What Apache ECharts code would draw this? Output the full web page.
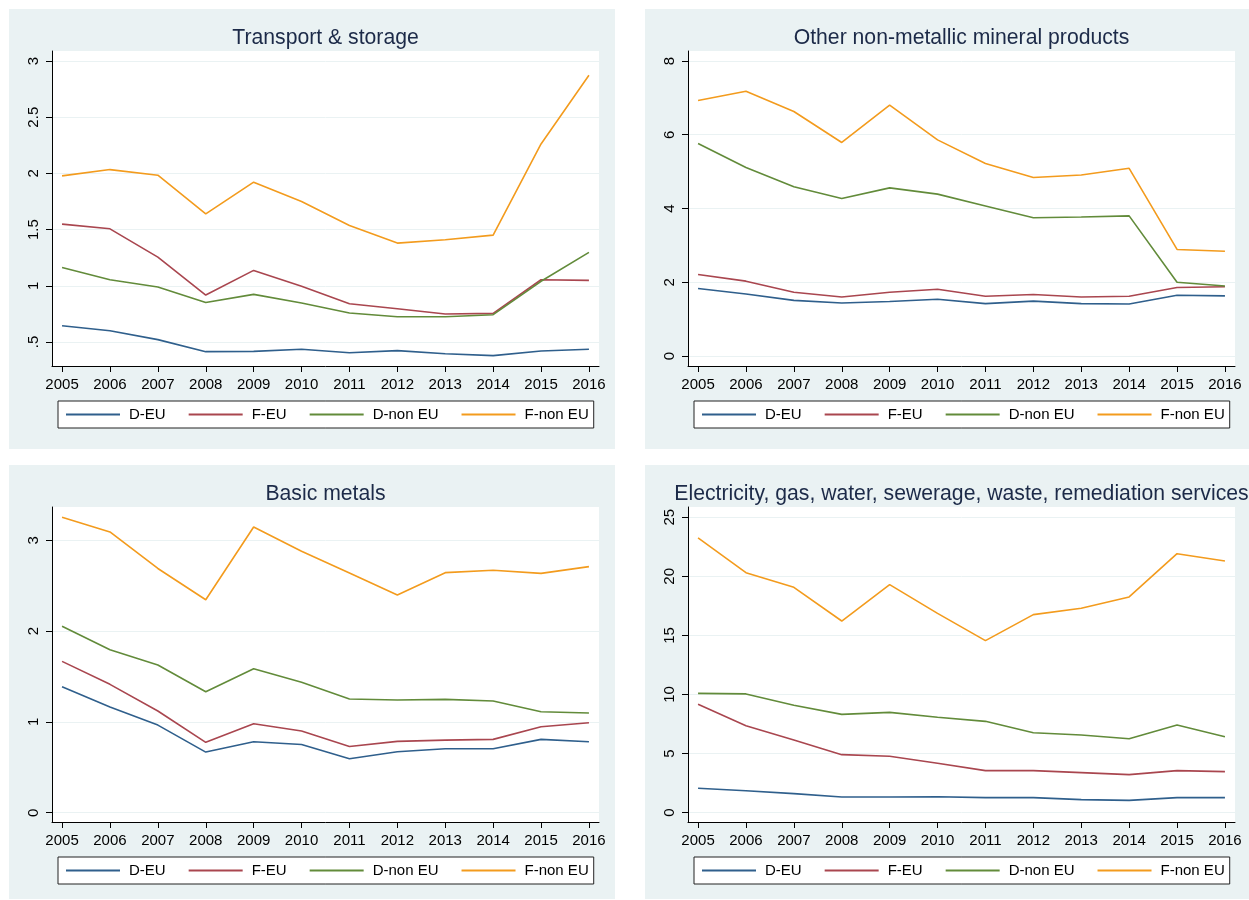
<!DOCTYPE html>
<html>
<head>
<meta charset="utf-8">
<script src="https://cdn.jsdelivr.net/npm/echarts@6/dist/echarts.min.js"></script>
<style>
  html, body { margin: 0; padding: 0; background: #fff; }
  #chart { width: 1249px; height: 900px; }
</style>
</head>
<body>
<div id="chart"></div>
<script>
// years on the x axis
const years = [2005, 2006, 2007, 2008, 2009, 2010, 2011, 2012, 2013, 2014, 2015, 2016];
const seriesNames = ['D-EU', 'F-EU', 'D-non EU', 'F-non EU'];

// Transport & storage
const transportDEU = [0.645, 0.600, 0.521, 0.414, 0.417, 0.435, 0.405, 0.423, 0.396, 0.379, 0.420, 0.435];
const transportFEU = [1.549, 1.507, 1.255, 0.918, 1.137, 0.995, 0.840, 0.796, 0.749, 0.755, 1.054, 1.048];
const transportDnonEU = [1.163, 1.054, 0.989, 0.852, 0.924, 0.847, 0.758, 0.725, 0.725, 0.743, 1.040, 1.297];
const transportFnonEU = [1.978, 2.034, 1.984, 1.640, 1.922, 1.750, 1.537, 1.380, 1.410, 1.451, 2.262, 2.873];
const transportTicks = [0.5, 1, 1.5, 2, 2.5, 3];

// Other non-metallic mineral products
const mineralDEU = [1.83, 1.68, 1.51, 1.44, 1.48, 1.54, 1.42, 1.49, 1.42, 1.41, 1.65, 1.63];
const mineralFEU = [2.21, 2.03, 1.73, 1.60, 1.73, 1.81, 1.62, 1.67, 1.60, 1.62, 1.86, 1.88];
const mineralDnonEU = [5.76, 5.11, 4.59, 4.27, 4.56, 4.39, 4.07, 3.75, 3.77, 3.80, 2.00, 1.90];
const mineralFnonEU = [6.93, 7.18, 6.63, 5.79, 6.80, 5.86, 5.22, 4.84, 4.91, 5.09, 2.89, 2.84];
const mineralTicks = [0, 2, 4, 6, 8];

// Basic metals
const metalsDEU = [1.388, 1.164, 0.965, 0.668, 0.782, 0.752, 0.595, 0.672, 0.705, 0.705, 0.808, 0.782];
const metalsFEU = [1.667, 1.414, 1.120, 0.775, 0.980, 0.900, 0.730, 0.786, 0.800, 0.808, 0.947, 0.991];
const metalsDnonEU = [2.053, 1.795, 1.627, 1.333, 1.586, 1.436, 1.252, 1.241, 1.248, 1.230, 1.112, 1.098];
const metalsFnonEU = [3.253, 3.092, 2.690, 2.346, 3.147, 2.879, 2.640, 2.398, 2.644, 2.670, 2.636, 2.710];
const metalsTicks = [0, 1, 2, 3];

// Electricity, gas, water, sewerage, waste, remediation services
const utilDEU = [2.06, 1.86, 1.61, 1.33, 1.33, 1.35, 1.27, 1.27, 1.10, 1.04, 1.27, 1.27];
const utilFEU = [9.17, 7.36, 6.15, 4.91, 4.77, 4.18, 3.56, 3.56, 3.39, 3.22, 3.56, 3.47];
const utilDnonEU = [10.10, 10.05, 9.09, 8.32, 8.49, 8.07, 7.73, 6.77, 6.57, 6.26, 7.42, 6.43];
const utilFnonEU = [23.25, 20.31, 19.07, 16.22, 19.30, 16.87, 14.56, 16.76, 17.30, 18.26, 21.92, 21.30];
const utilTicks = [0, 5, 10, 15, 20, 25];

const colors = ['#2f5f8c', '#a9464f', '#628b3a', '#f39b1d'];
const font = '"Liberation Sans", Arial, sans-serif';

const panels = [
  { title: 'Transport & storage', data: [transportDEU, transportFEU, transportDnonEU, transportFnonEU],
    ticks: transportTicks, ymin: 0.2865, ymax: 3.089, left: 52, top: 51 },
  { title: 'Other non-metallic mineral products', data: [mineralDEU, mineralFEU, mineralDnonEU, mineralFnonEU],
    ticks: mineralTicks, ymin: -0.27, ymax: 8.27, left: 688, top: 51 },
  { title: 'Basic metals', data: [metalsDEU, metalsFEU, metalsDnonEU, metalsFnonEU],
    ticks: metalsTicks, ymin: -0.102, ymax: 3.367, left: 52, top: 507 },
  { title: 'Electricity, gas, water, sewerage, waste, remediation services', data: [utilDEU, utilFEU, utilDnonEU, utilFnonEU],
    ticks: utilTicks, ymin: -0.79, ymax: 25.87, left: 688, top: 507 }
];
const plotW = 547, plotH = 315;

const option = {
  animation: false,
  textStyle: { fontFamily: font },
  graphic: [
    { type: 'rect', z: -10, shape: { x: 9, y: 9, width: 606, height: 440 }, style: { fill: '#eaf2f3' } },
    { type: 'rect', z: -10, shape: { x: 645, y: 9, width: 604, height: 440 }, style: { fill: '#eaf2f3' } },
    { type: 'rect', z: -10, shape: { x: 9, y: 465, width: 606, height: 434 }, style: { fill: '#eaf2f3' } },
    { type: 'rect', z: -10, shape: { x: 645, y: 465, width: 604, height: 434 }, style: { fill: '#eaf2f3' } }
  ],
  title: [],
  legend: [],
  grid: [],
  xAxis: [],
  yAxis: [],
  series: []
};

panels.forEach((p, i) => {
  option.title.push({
    text: p.title,
    left: p.left + plotW / 2,
    top: p.top - 23,
    textAlign: 'center',
    padding: 0,
    textStyle: { fontFamily: font, fontSize: 21.2, fontWeight: 'normal', color: '#1c2a48' }
  });
  option.grid.push({
    left: p.left, top: p.top, width: plotW, height: plotH,
    show: true, backgroundColor: '#ffffff', borderWidth: 0,
    containLabel: false, outerBoundsMode: 'none'
  });
  option.xAxis.push({
    type: 'value', gridIndex: i, min: 2004.79, max: 2016.21,
    axisLine: { show: true, onZero: false, lineStyle: { color: '#000', width: 1 } },
    axisTick: { show: true, length: 6, customValues: years, lineStyle: { color: '#000' } },
    axisLabel: { customValues: years, margin: 11, fontSize: 15, color: '#000', fontFamily: font,
      formatter: v => String(v) },
    splitLine: { show: false }
  });
  option.yAxis.push({
    type: 'value', gridIndex: i, min: p.ymin, max: p.ymax,
    axisLine: { show: true, onZero: false, lineStyle: { color: '#000', width: 1 } },
    axisTick: { show: true, length: 6, customValues: p.ticks, lineStyle: { color: '#000' } },
    axisLabel: {
      customValues: p.ticks, rotate: 90, margin: 11, fontSize: 15, color: '#000', fontFamily: font,
      formatter: v => (v > 0 && v < 1 ? String(v).replace(/^0/, '') : String(v))
    },
    splitLine: { show: true, lineStyle: { color: '#eaf2f3', width: 1 } }
  });
  p.data.forEach((vals, k) => {
    option.series.push({
      name: seriesNames[k], type: 'line', xAxisIndex: i, yAxisIndex: i,
      symbol: 'none', color: colors[k],
      lineStyle: { width: 1.6, color: colors[k] },
      data: years.map((y, j) => [y, vals[j]])
    });
  });
  option.legend.push({
    data: seriesNames,
    left: p.left + 6, top: p.top + 350,
    itemWidth: 54, itemHeight: 14, itemGap: 22,
    itemStyle: { opacity: 0 },
    padding: [6, 5, 6, 7],
    backgroundColor: '#ffffff', borderColor: '#222', borderWidth: 1,
    textStyle: { fontFamily: font, fontSize: 15, color: '#000', padding: [0, 0, 0, 4] }
  });
});

const chart = echarts.init(document.getElementById('chart'));
chart.setOption(option);
</script>
</body>
</html>
